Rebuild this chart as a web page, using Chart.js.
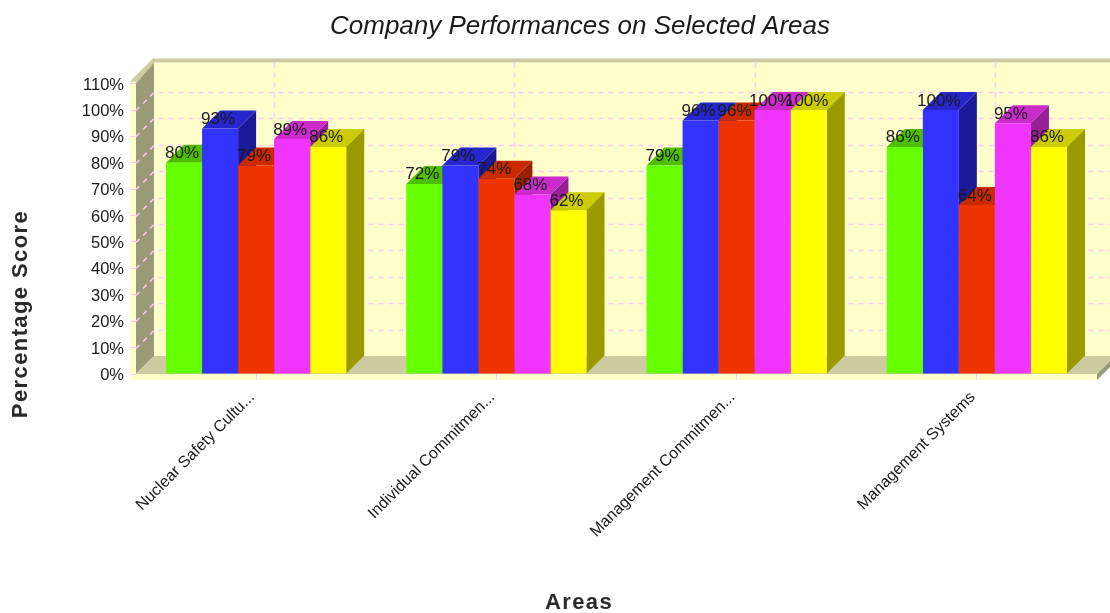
<!DOCTYPE html>
<html>
<head>
<meta charset="utf-8">
<title>Company Performances on Selected Areas</title>
<script src="https://cdn.jsdelivr.net/npm/chart.js@4"></script>
<style>
body { margin: 0; background: #fff; }
canvas { display: block; }
</style>
</head>
<body>
<canvas id="scoreChart" width="1110" height="613"></canvas>
<script>
const areas = ['Nuclear Safety Cultu...', 'Individual Commitmen...', 'Management Commitmen...', 'Management Systems'];
const greenScores = [80, 72, 79, 86];
const blueScores = [93, 79, 96, 100];
const redScores = [79, 74, 96, 64];
const magentaScores = [89, 68, 100, 95];
const yellowScores = [86, 62, 100, 86];

const frontColors = ['#66ff00', '#3333ff', '#ee3300', '#f035ff', '#ffff00'];
const topColors = ['#4dbf00', '#2626cc', '#c92a00', '#cc2bcc', '#cccc00'];
const sideColors = ['#3d9900', '#1a1a99', '#991f00', '#991f99', '#999900'];

const depth = 18;
const gridPink = '#ffc8f5';
const inkColor = '#1a1a1a';
const font = 'Liberation Sans, Arial, sans-serif';

function poly(ctx, color, pts) {
	ctx.fillStyle = color;
	ctx.beginPath();
	pts.forEach((p, i) => i ? ctx.lineTo(p[0], p[1]) : ctx.moveTo(p[0], p[1]));
	ctx.closePath();
	ctx.fill();
}

// walls, floor and the back grid, all hung off the chart's scales
const box3d = {
	id: 'box3d',
	beforeDraw(chart) {
		const { ctx, chartArea: a, scales } = chart;
		const w = chart.width, beige = '#cfcba0', pale = '#ffffcc', olive = '#9a9a78';
		ctx.save();
		ctx.fillStyle = '#fff';
		ctx.fillRect(0, 0, w, chart.height);
		ctx.fillStyle = pale;
		ctx.fillRect(a.left + depth, a.top - depth - 3, w, a.height + 3);
		// top strip
		poly(ctx, beige, [[a.left - 6, a.top - 2], [a.left + depth - 1, a.top - depth - 7], [w, a.top - depth - 7], [w, a.top - depth - 3], [a.left + depth, a.top - depth - 3], [a.left, a.top]]);
		// front edge
		ctx.fillStyle = pale;
		ctx.fillRect(a.left - 6, a.top - 2, 6, a.height + 8);
		ctx.fillRect(a.left - 6, a.bottom, a.width + 6, 6);
		// left wall, floor, right end
		poly(ctx, olive, [[a.left, a.bottom], [a.left + depth, a.bottom - depth], [a.left + depth, a.top - depth - 3], [a.left, a.top]]);
		poly(ctx, beige, [[a.left, a.bottom], [a.left + depth, a.bottom - depth], [a.right + depth, a.bottom - depth], [a.right, a.bottom]]);
		poly(ctx, olive, [[a.right, a.bottom], [a.right + depth, a.bottom - depth], [a.right + depth, a.bottom - depth + 6], [a.right, a.bottom + 6]]);

		ctx.strokeStyle = gridPink;
		ctx.lineWidth = 1.5;
		ctx.setLineDash([5, 5]);
		scales.y.ticks.forEach(t => {
			if (t.value === scales.y.min || t.value === scales.y.max) return;
			const y = Math.round(scales.y.getPixelForValue(t.value)) + 0.5;
			ctx.beginPath();
			ctx.moveTo(a.left, y);
			ctx.lineTo(a.left + depth, y - depth);
			ctx.lineTo(w, y - depth);
			ctx.stroke();
		});
		areas.forEach((c, i) => {
			const x = Math.round(scales.x.getPixelForValue(i)) + depth + 0.5;
			ctx.beginPath();
			ctx.moveTo(x, a.top - depth - 3);
			ctx.lineTo(x, a.bottom - depth);
			ctx.stroke();
		});
		ctx.restore();
	},
	beforeDatasetsDraw(chart) {
		const ctx = chart.ctx;
		areas.forEach((c, j) => {
			chart.data.datasets.forEach((ds, i) => {
				const bar = chart.getDatasetMeta(i).data[j];
				const l = bar.x - bar.width / 2, r = bar.x + bar.width / 2;
				poly(ctx, topColors[i], [[l, bar.y], [l + depth, bar.y - depth], [r + depth, bar.y - depth], [r, bar.y]]);
				poly(ctx, sideColors[i], [[r, bar.y], [r + depth, bar.y - depth], [r + depth, bar.base - depth], [r, bar.base]]);
			});
		});
	},
	afterDatasetsDraw(chart) {
		const ctx = chart.ctx;
		ctx.save();
		ctx.fillStyle = inkColor;
		ctx.textAlign = 'center';
		ctx.textBaseline = 'alphabetic';
		ctx.font = '17px ' + font;
		chart.data.datasets.forEach((ds, i) => {
			chart.getDatasetMeta(i).data.forEach((bar, j) => {
				ctx.fillText(ds.data[j] + '%', bar.x - 2, bar.y - 4.5);
			});
		});
		// axis titles sit off the plot centre in the original
		ctx.font = 'bold 22px ' + font;
		ctx.letterSpacing = '1.4px';
		ctx.fillStyle = '#2a2a2a';
		ctx.fillText('Areas', 579, 609);
		ctx.translate(21, 314);
		ctx.rotate(-Math.PI / 2);
		ctx.textBaseline = 'middle';
		ctx.fillText('Percentage Score', 0, 0);
		ctx.restore();
	}
};

const scoreChart = new Chart(document.getElementById('scoreChart'), {
	type: 'bar',
	data: {
		labels: areas,
		datasets: [greenScores, blueScores, redScores, magentaScores, yellowScores].map((d, i) => ({
			data: d,
			backgroundColor: frontColors[i],
			categoryPercentage: 0.75,
			barPercentage: 1
		}))
	},
	options: {
		responsive: false,
		animation: false,
		layout: { padding: { left: 63, right: 13, top: 0, bottom: 0 } },
		plugins: {
			legend: { display: false },
			tooltip: { enabled: false },
			title: {
				display: true,
				text: 'Company Performances on Selected Areas',
				color: inkColor,
				font: { family: font, size: 26, style: 'italic', weight: 'normal' },
				padding: { top: 11, bottom: 41.4 }
			}
		},
		scales: {
			x: {
				border: { display: false },
				grid: { offset: false, drawOnChartArea: false, tickColor: gridPink, tickLength: 6 },
				ticks: { color: inkColor, autoSkip: false, minRotation: 45, maxRotation: 45, padding: 8, labelOffset: -4, font: { family: font, size: 16 } },
				afterFit(s) { s.height = 239; s.paddingLeft = 0; s.paddingRight = 0; }
			},
			y: {
				min: 0,
				max: 110,
				border: { display: false },
				grid: { drawOnChartArea: false, tickColor: gridPink, tickLength: 6 },
				ticks: { stepSize: 10, color: inkColor, padding: 6, labelOffset: 1.5, font: { family: font, size: 16.5 }, callback: v => v + '%' },
				afterFit(s) { s.width = 73; }
			}
		}
	},
	plugins: [box3d]
});
</script>
</body>
</html>
